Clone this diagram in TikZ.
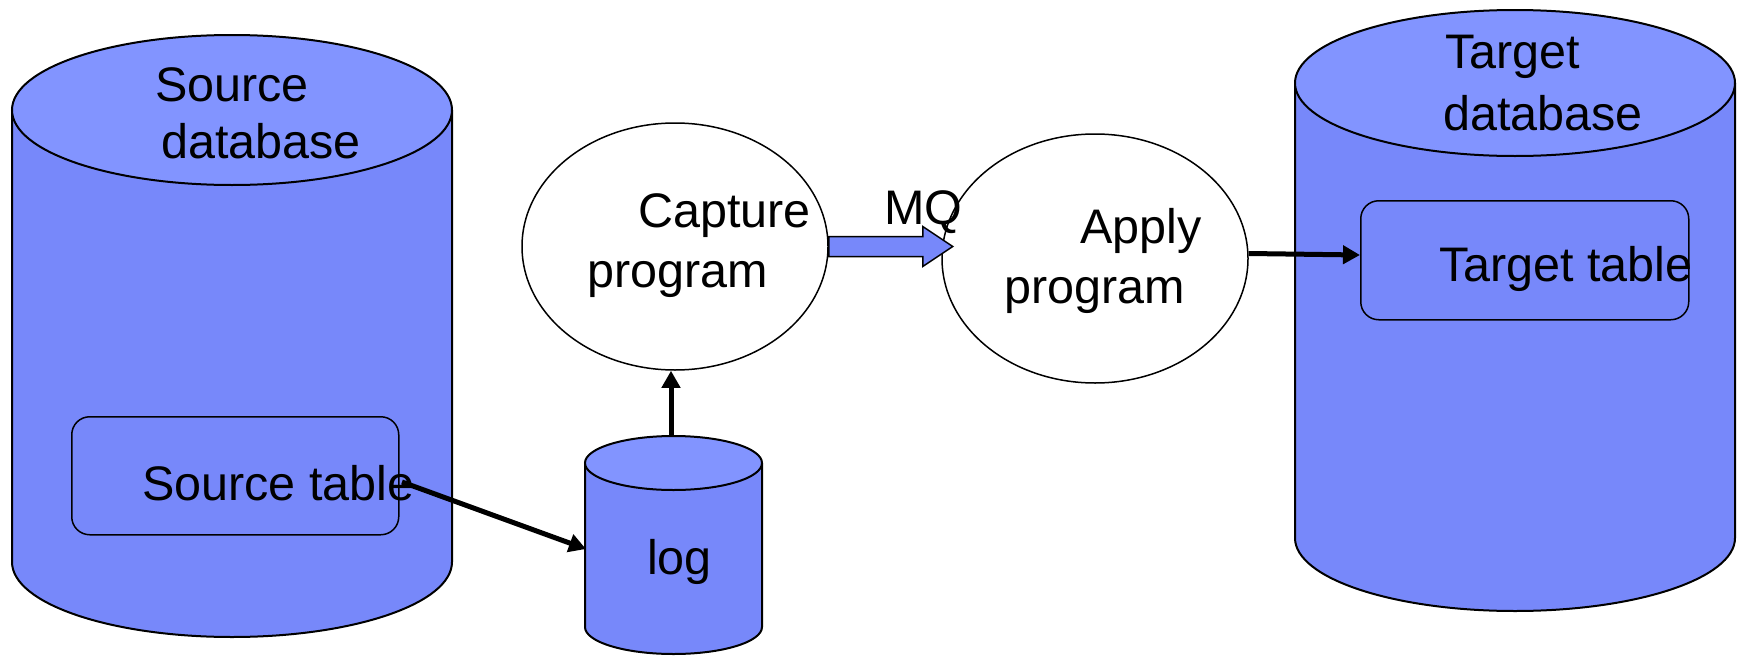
\documentclass[tikz,border=0pt]{standalone}
\usepackage{fontspec}
\setmainfont{Liberation Sans}
\usetikzlibrary{shapes.geometric,arrows.meta,calc}
\definecolor{dbside}{RGB}{119,136,250}
\definecolor{dbtop}{RGB}{130,148,255}
\newcommand{\cylshape}[5]{%
  \path[fill=dbside,draw=black,line width=2pt] (#1-#2,#3) -- (#1-#2,#4)
    arc[start angle=180,end angle=0,x radius=#2,y radius=#5] -- (#1+#2,#3);
  \filldraw[fill=dbtop,draw=black,line width=2pt] (#1,#3) ellipse[x radius=#2,y radius=#5];
}
\tikzset{
  lbl/.style={font=\fontsize{48.5}{58}\selectfont, inner sep=0pt, anchor=base west},
  tbl/.style={draw=black,line width=1.5pt,rounded corners=18pt,inner sep=0pt,anchor=north west},
  proc/.style={ellipse,draw=black,line width=1.5pt,fill=white,inner sep=0pt},
  conn/.style={line width=5pt,-{Triangle[length=17pt,width=18pt]}},
}
\begin{document}
\begin{tikzpicture}[x=1pt,y=-1pt]
\useasboundingbox (0,0) rectangle (1741,656);
% cylinders
\cylshape{232}{220}{110}{562}{75}
\cylshape{1515}{220}{83}{538}{73}
\cylshape{673.5}{88.5}{463}{627}{27}
% tables
\node[tbl,minimum width=327pt,minimum height=118pt] (stab) at (71,416) {};
\node[tbl,minimum width=328pt,minimum height=119pt] (ttab) at (1360,200) {};
% processes
\node[proc,minimum width=306pt,minimum height=247pt] (cap) at (675,246.5) {};
\node[proc,minimum width=306pt,minimum height=249pt] (app) at (1095,258.5) {};
% labels
\node[lbl] (srcA) at (155,101) {Source};
\node[lbl] (srcB) at (161,158) {database};
\node[lbl] (tgtA) at (1445,68) {Target};
\node[lbl] (tgtB) at (1443,130) {database};
\node[lbl] (stabt) at (142,500) {Source table};
\node[lbl] (ttabt) at (1439,281) {Target table};
\node[lbl] (logt) at (647,574) {log};
\node[lbl] (capA) at (638,227) {Capture};
\node[lbl] (capB) at (587,287) {program};
\node[lbl] (appA) at (1080,243) {Apply};
\node[lbl] (appB) at (1004,303) {program};
\node[lbl] (mq) at (884,224) {MQ};
% block arrow (MQ)
\filldraw[fill=dbside,draw=black,line width=1.5pt]
  ($(cap.east)+(0,-10)$) -- ++(94,0) -- ++(0,-10) -- ++(30,20) -- ++(-30,20) -- ++(0,-10) -- ++(-94,0) -- cycle;
% connectors
\coordinate (s1) at (402,482);
\coordinate (logw) at (586,549);
\coordinate (logtop) at (671,435);
\coordinate (a1) at ($(app.east)+(0,-5)$);
\coordinate (t1) at (1360,255);
\draw[conn] (s1) -- (logw);
\draw[conn] (logtop) -- (logtop |- cap.south);
\draw[conn] (a1) -- (t1);
\end{tikzpicture}
\end{document}
